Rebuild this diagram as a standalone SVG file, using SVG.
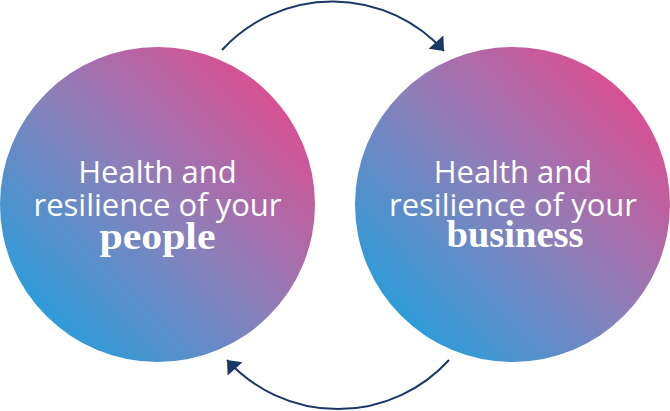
<svg xmlns="http://www.w3.org/2000/svg" width="670" height="411" viewBox="0 0 670 411">
  <defs>
    <linearGradient id="grad" x1="0.13" y1="0.87" x2="0.87" y2="0.13">
      <stop offset="0" stop-color="#2a9dd9"/>
      <stop offset="0.5" stop-color="#8b80ba"/>
      <stop offset="1" stop-color="#da4f91"/>
    </linearGradient>
    <marker id="arrow" markerUnits="userSpaceOnUse" markerWidth="16" markerHeight="24" viewBox="-14 -11 16 22" refX="0" refY="0" orient="auto">
      <path d="M0,0 L-12,-10 L-12,10 Z" fill="#1b3766"/>
    </marker>
  </defs>
  <style>
    .circle { fill: url(#grad); }
    .sans { font-family: "Open Sans", "Liberation Sans", sans-serif; font-size: 31px; fill: #ffffff; text-anchor: middle; }
    .serif { font-family: "Liberation Serif", "DejaVu Serif", serif; font-weight: bold; font-size: 37px; fill: #ffffff; text-anchor: middle; }
    .conn { fill: none; stroke: #1b3766; stroke-width: 2; marker-end: url(#arrow); }
  </style>
  <rect width="670" height="411" fill="#ffffff"/>
  <g id="node-people">
    <circle class="circle" cx="157.5" cy="204.5" r="157.5"/>
    <text class="sans" x="157.5" y="183">Health and</text>
    <text class="sans" x="157.5" y="216">resilience of your</text>
    <text class="serif" x="157.5" y="249" textLength="116" lengthAdjust="spacingAndGlyphs">people</text>
  </g>
  <g id="node-business">
    <circle class="circle" cx="512.5" cy="204.5" r="157.5"/>
    <text class="sans" x="513" y="183">Health and</text>
    <text class="sans" x="513" y="216">resilience of your</text>
    <text class="serif" x="515" y="247" textLength="137" lengthAdjust="spacingAndGlyphs">business</text>
  </g>
  <g id="connectors">
    <path class="conn" d="M222,50 A150,150 0 0 1 444,51"/>
    <path class="conn" d="M449,360 A150,150 0 0 1 227,360"/>
  </g>
</svg>
